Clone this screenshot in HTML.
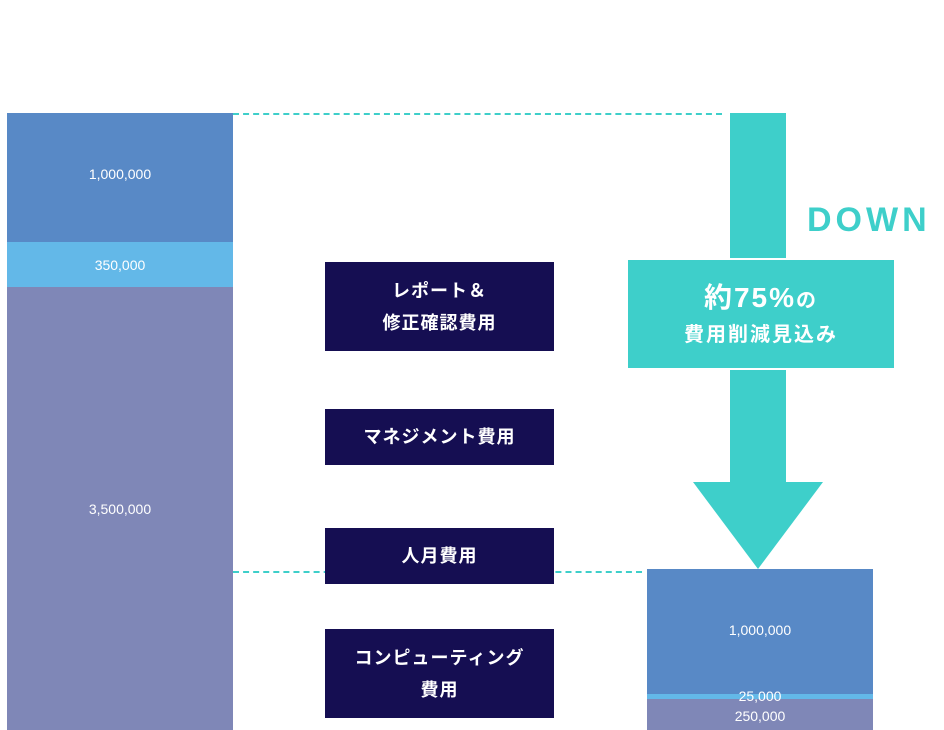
<!DOCTYPE html>
<html><head><meta charset="utf-8"><style>
body{margin:0;width:944px;height:730px;background:#fff;position:relative;overflow:hidden;font-family:"Liberation Sans","Noto Sans CJK JP",sans-serif}
.a{position:absolute}
.n{color:#fff;font-size:14px;text-align:center;display:flex;align-items:center;justify-content:center}
.lb{position:absolute;left:325px;width:229px;background:#150e52;color:#fff;font-weight:bold;font-size:18px;line-height:32px;text-align:center;display:flex;align-items:center;justify-content:center;letter-spacing:1px}
.t{background:#3ecfca}
.d{position:absolute;height:0;border-top:2px dashed #3ecfca}
</style></head><body>
<div class="d" style="left:233px;top:113px;width:489px"></div>
<div class="d" style="left:233px;top:571px;width:409px"></div>
<div class="a n" style="left:7px;top:113px;width:226px;height:122px;background:#5889c6"></div>
<div class="a" style="left:7px;top:113px;width:226px;height:129px;background:#5889c6"></div>
<div class="a n" style="left:7px;top:164px;width:226px;height:20px">1,000,000</div>
<div class="a n" style="left:7px;top:242px;width:226px;height:45px;background:#63b8e8">350,000</div>
<div class="a n" style="left:7px;top:287px;width:226px;height:443px;background:#7f87b7">3,500,000</div>
<div class="lb" style="top:262px;height:89px">レポート＆<br>修正確認費用</div>
<div class="lb" style="top:409px;height:56px">マネジメント費用</div>
<div class="lb" style="top:528px;height:56px">人月費用</div>
<div class="lb" style="top:629px;height:89px">コンピューティング<br>費用</div>
<div class="a t" style="left:730px;top:113px;width:56px;height:145px"></div>
<div class="a" style="left:807px;top:201px;font-size:34px;font-weight:bold;color:#3ecfca;letter-spacing:4px">DOWN</div>
<div class="a t" style="left:628px;top:260px;width:266px;height:108px;color:#fff;font-weight:bold;text-align:center">
<div style="font-size:28px;margin-top:16px;letter-spacing:2px">約75%<span style="font-size:20px">の</span></div>
<div style="font-size:20px;letter-spacing:2px;margin-top:2px">費用削減見込み</div></div>
<div class="a t" style="left:730px;top:370px;width:56px;height:113px"></div>
<svg class="a" style="left:0;top:0" width="944" height="730"><polygon points="693,482 823,482 758,569" fill="#3ecfca"/></svg>
<div class="a n" style="left:647px;top:569px;width:226px;height:125px;background:#5889c6"></div>
<div class="a n" style="left:647px;top:620px;width:226px;height:20px">1,000,000</div>
<div class="a" style="left:647px;top:694px;width:226px;height:5px;background:#63b8e8"></div>
<div class="a" style="left:647px;top:699px;width:226px;height:31px;background:#7f87b7"></div>
<div class="a n" style="left:647px;top:687px;width:226px;height:18px">25,000</div>
<div class="a n" style="left:647px;top:707px;width:226px;height:18px">250,000</div>
</body></html>
